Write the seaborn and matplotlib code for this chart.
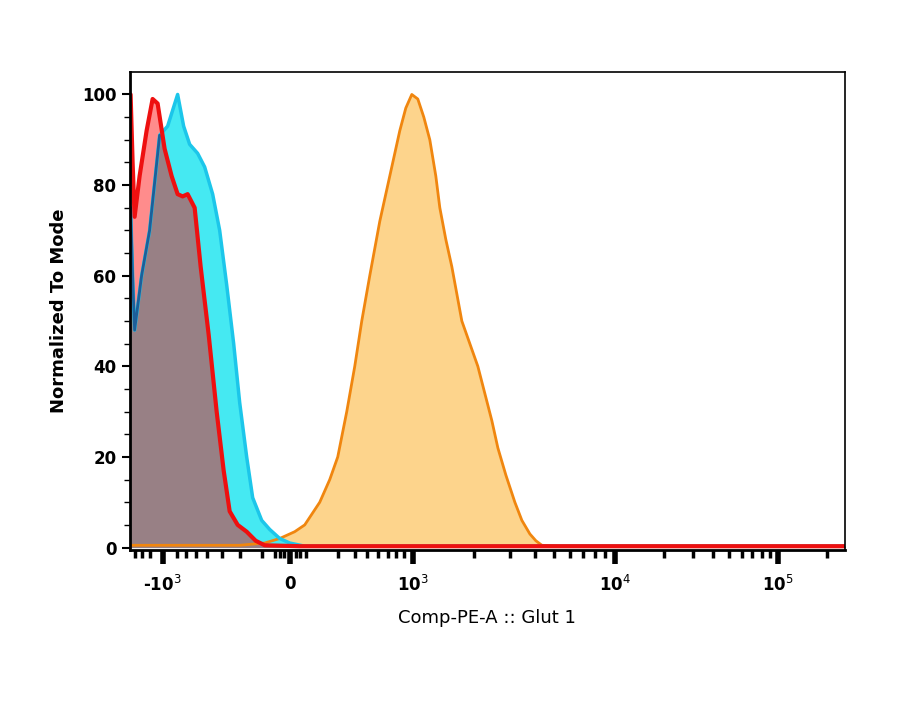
import numpy as np
import matplotlib
matplotlib.use("Agg")
import matplotlib.pyplot as plt
import seaborn as sns

sns.set_style("ticks")
plt.rcParams['font.family'] = ['DejaVu Sans']
plt.rcParams['text.color'] = 'black'
plt.rcParams['axes.labelcolor'] = 'black'
plt.rcParams['xtick.color'] = 'black'
plt.rcParams['ytick.color'] = 'black'
plt.rcParams['axes.edgecolor'] = 'black'

# display-channel positions (biexponential scale units) and normalized counts
red_x = [131, 133, 135, 140, 147, 153, 158, 165, 172, 178, 183, 188, 195, 201, 209, 217, 224, 230, 238, 247, 256, 265, 300, 845]
red_y = [100, 85, 73, 82, 92, 99, 98, 88, 82, 78, 77.5, 78, 75, 62, 47, 30, 17, 8, 5, 3.5, 1.5, 0.5, 0.3, 0.3]
cyan_x = [131, 133, 135, 142, 150, 160, 168, 178, 184, 190, 198, 205, 213, 220, 227, 234, 240, 247, 253, 262, 270, 280, 290, 305, 845]
cyan_y = [75, 60, 48, 60, 70, 91, 93, 100, 93, 89, 87, 84, 78, 70, 58, 45, 32, 20, 11, 6, 4, 2, 1, 0.3, 0.3]
orange_x = [131, 240, 265, 280, 295, 305, 320, 330, 338, 347, 355, 362, 370, 380, 388, 395, 400, 406, 412, 418, 424, 430, 436, 440, 446, 452, 462, 470, 478, 485, 492, 498, 506, 515, 522, 530, 536, 542, 560, 845]
orange_y = [0.5, 0.5, 1, 2, 3.5, 5, 10, 15, 20, 30, 40, 50, 60, 72, 80, 87, 92, 97, 100, 99, 95, 90, 82, 75, 68, 62, 50, 45, 40, 34, 28, 22, 16, 10, 6, 3, 1.5, 0.5, 0.3, 0.3]

tick_pos = [163, 290, 413, 615, 778]
tick_labels = [r"-10$^3$", "0", r"10$^3$", r"10$^4$", r"10$^5$"]
minor_pos = [135, 142, 150, 177, 186, 196, 207, 222, 240, 262, 275, 280, 284, 296, 300, 306,
             338, 355, 367, 378, 388, 396, 404, 474, 510, 535, 554, 570, 583, 595, 605,
             664, 693, 713, 729, 742, 752, 762, 770, 827]

fig = plt.figure(figsize=(9, 7.04), dpi=100)
ax = fig.add_axes([0.144, 0.219, 0.795, 0.679])

ax.fill_between(orange_x, orange_y, color="#fdd48c", alpha=1, lw=0)
sns.lineplot(x=orange_x, y=orange_y, color="#f0860f", lw=2, ax=ax, sort=False)
ax.fill_between(cyan_x, cyan_y, color="#45e9f2", lw=0)
sns.lineplot(x=cyan_x, y=cyan_y, color="#1cc6ea", lw=2.5, ax=ax, sort=False)
ax.plot(cyan_x[:6], cyan_y[:6], color="#1d5e99", lw=2)
ax.fill_between(red_x, red_y, color="#ff0000", alpha=0.45, lw=0)
sns.lineplot(x=red_x, y=red_y, color="#ee1010", lw=3, ax=ax, sort=False)

ax.set_xlim(130, 845)
ax.set_ylim(-0.5, 105)
ax.set_xticks(tick_pos)
ax.set_xticklabels(tick_labels, fontsize=12, fontweight="bold")
ax.set_xticks(minor_pos, minor=True)
ax.set_yticks([0, 20, 40, 60, 80, 100])
ax.set_yticklabels(["0", "20", "40", "60", "80", "100"], fontsize=12, fontweight="bold")
ax.set_yticks(np.arange(0, 101, 5), minor=True)
ax.tick_params(axis="x", which="major", length=10, width=4, pad=8)
ax.tick_params(axis="x", which="minor", length=6, width=2.5)
ax.tick_params(axis="y", which="major", length=6, width=1.5)
ax.tick_params(axis="y", which="minor", length=4, width=1)
for s in ax.spines.values():
    s.set_linewidth(1.2)
ax.spines["left"].set_linewidth(2)
ax.spines["bottom"].set_linewidth(2)
ax.set_xlabel("Comp-PE-A :: Glut 1", fontsize=13, labelpad=10)
ax.set_ylabel("Normalized To Mode", fontsize=13, fontweight="bold", labelpad=10)

fig.savefig("out.png", dpi=100)
